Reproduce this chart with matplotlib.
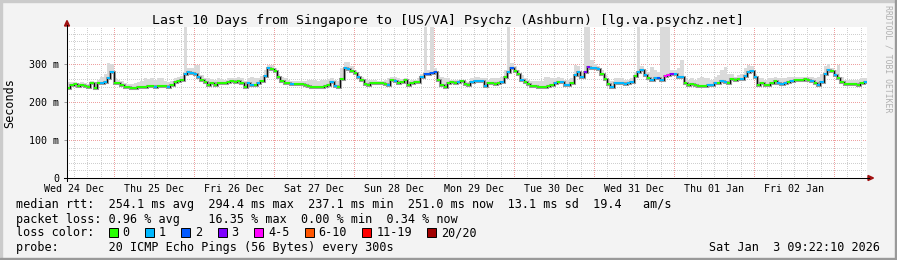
import numpy as np
import matplotlib.pyplot as plt
from matplotlib.patches import Rectangle, Polygon
from matplotlib.lines import Line2D

plt.rcParams['font.family'] = ['DejaVu Sans Mono']

# hourly median rtt (ms), graph start Wed 24 Dec ~10:00
rtt = [238, 245, 247, 242, 246, 243, 240, 249, 237, 251,
       249, 253, 262, 280, 251, 249, 245, 239, 239, 237,
       237, 239, 239, 239, 242, 242, 239, 242, 242, 242,
       239, 245, 253, 255, 258, 275, 280, 277, 274, 265,
       258, 253, 246, 249, 245, 249, 249, 249, 253, 255,
       253, 255, 251, 239, 249, 245, 245, 249, 255, 268,
       289, 286, 281, 267, 255, 251, 249, 247, 247, 247,
       247, 245, 242, 240, 240, 239, 239, 242, 245, 253,
       242, 239, 260, 289, 286, 282, 277, 267, 258, 247,
       245, 249, 249, 249, 249, 247, 245, 258, 255, 251,
       253, 258, 245, 251, 253, 253, 267, 274, 275, 277,
       280, 258, 245, 239, 249,
       253, 251, 253, 255, 247, 245, 253, 255, 255, 255,
       242, 249, 249, 247, 249, 253, 265, 280, 289, 282,
       274, 258, 253, 247, 242, 242, 240, 240, 240, 242,
       245, 251, 253, 253, 245, 245, 249, 271, 280, 265,
       280, 293, 289, 289, 287, 274, 260, 247, 239, 249,
       249, 249, 247, 249, 253, 268, 280, 284, 271, 262,
       258, 262, 262, 258, 268, 271, 275, 275, 267, 265,
       251, 245, 247, 245, 242, 242, 242, 245, 245, 249,
       251, 255, 253, 249, 260, 258, 261, 260, 268, 280,
       282, 267, 245, 249, 246, 245, 251, 256, 249, 247,
       249, 253, 256, 258, 258, 258, 260, 258, 256, 251,
       245, 253, 274, 284, 282, 271, 262, 253, 247, 247,
       247, 247, 246, 249, 253]

# slowest ping of each hour (ms), the top of the smoke
ping_max = [253, 252, 252, 250, 252, 250, 248, 255, 250, 258,
            265, 275, 302, 300, 262, 258, 255, 250, 248, 248,
            250, 252, 255, 262, 260, 262, 258, 262, 262, 255,
            252, 255, 262, 265, 268, 400, 290, 290, 297, 297,
            270, 262, 262, 260, 258, 262, 260, 258, 262, 262,
            262, 265, 262, 255, 262, 265, 262, 262, 268, 285,
            297, 297, 290, 275, 265, 262, 258, 255, 255, 255,
            255, 255, 258, 258, 258, 255, 258, 258, 260, 262,
            258, 255, 290, 306, 306, 295, 285, 275, 265, 260,
            258, 258, 258, 255, 255, 258, 262, 267, 267, 262,
            260, 262, 255, 258, 258, 262, 275, 400, 285, 400,
            290, 271, 265, 262, 262,
            258, 258, 258, 258, 255, 253, 262, 265, 265, 262,
            262, 258, 262, 262, 262, 265, 285, 400, 302, 295,
            285, 270, 262, 258, 255, 255, 255, 255, 265, 267,
            262, 262, 267, 262, 258, 258, 262, 297, 295, 280,
            400, 400, 310, 300, 295, 285, 270, 258, 255, 262,
            262, 262, 258, 258, 262, 280, 400, 295, 285, 280,
            293, 285, 280, 400, 400, 400, 284, 284, 290, 310,
            262, 258, 262, 258, 262, 265, 262, 262, 258, 265,
            270, 284, 293, 275, 275, 267, 270, 275, 290, 297,
            295, 275, 262, 262, 258, 262, 262, 265, 262, 262,
            262, 265, 265, 267, 265, 265, 267, 265, 267, 262,
            265, 275, 295, 300, 290, 285, 297, 265, 258, 258,
            258, 258, 258, 262, 262]

# lost pings (of 20) per hour
loss = [0, 0, 0, 0, 0, 0, 0, 0, 0, 0,
        1, 1, 1, 1, 0, 0, 0, 0, 0, 0,
        0, 0, 0, 0, 0, 0, 1, 0, 0, 0,
        1, 0, 0, 0, 0, 1, 1, 1, 1, 1,
        0, 0, 0, 0, 0, 0, 0, 0, 0, 0,
        0, 0, 0, 0, 1, 1, 0, 1, 0, 1,
        1, 0, 0, 0, 0, 0, 0, 1, 0, 0,
        0, 0, 0, 0, 0, 0, 0, 0, 0, 1,
        1, 0, 0, 1, 1, 0, 0, 1, 0, 0,
        0, 0, 0, 0, 0, 0, 1, 0, 1, 0,
        0, 0, 0, 0, 0, 0, 1, 2, 2, 2,
        2, 0, 0, 0, 0,
        0, 0, 1, 0, 0, 0, 1, 1, 1, 1,
        1, 0, 0, 0, 0, 1, 0, 1, 2, 0,
        0, 1, 0, 0, 0, 0, 0, 0, 0, 0,
        0, 1, 0, 1, 1, 1, 0, 1, 1, 1,
        3, 3, 1, 1, 1, 0, 0, 0, 1, 1,
        1, 1, 1, 1, 1, 0, 1, 1, 1, 0,
        1, 1, 2, 1, 5, 5, 3, 1, 1, 1,
        0, 0, 0, 0, 0, 0, 0, 1, 1, 1,
        0, 1, 1, 0, 0, 0, 0, 1, 1, 1,
        1, 1, 0, 0, 0, 0, 0, 0, 1, 1,
        1, 0, 1, 0, 0, 0, 0, 0, 1, 0,
        1, 1, 1, 1, 0, 1, 0, 0, 0, 0,
        0, 0, 0, 0, 1]

day_labels = ['Wed 24 Dec', 'Thu 25 Dec', 'Fri 26 Dec', 'Sat 27 Dec', 'Sun 28 Dec',
              'Mon 29 Dec', 'Tue 30 Dec', 'Wed 31 Dec', 'Thu 01 Jan', 'Fri 02 Jan']
first_midnight = 14.1  # hours after graph start

loss_names = ['0', '1', '2', '3', '4-5', '6-10', '11-19', '20/20']
loss_upper = [0, 1, 2, 3, 5, 10, 19, 20]
loss_colors = ['#26ff00', '#00b8ff', '#0059ff', '#7e00ff', '#ff00ff', '#ff5500', '#ff0000', '#a10000']

title = 'Last 10 Days from Singapore to [US/VA] Psychz (Ashburn) [lg.va.psychz.net]'
stats = ['median rtt:  254.1 ms avg  294.4 ms max  237.1 ms min  251.0 ms now  13.1 ms sd  19.4   am/s',
         'packet loss: 0.96 % avg    16.35 % max  0.00 % min  0.34 % now']
probe = 'probe:       20 ICMP Echo Pings (56 Bytes) every 300s'
stamp = 'Sat Jan  3 09:22:10 2026'

W, H = 897, 260
fig = plt.figure(figsize=(W / 100, H / 100), dpi=100, facecolor='#f3f3f3')


def fx(px):
    return px / W


def fy(py):
    return 1 - py / H


ax = fig.add_axes([fx(67), fy(178), 800 / W, 151 / H])
ax.set_facecolor('white')
ax.set_xlim(0, 240)
ax.set_ylim(0, 151 / 0.38)
for s in ax.spines.values():
    s.set_visible(False)

# grid
minor_c = '#cfcfcf'
major_c = '#eea0a0'
dots = (0, (1, 1.6))
for v in range(20, 400, 20):
    ax.axhline(v, color=major_c if v % 100 == 0 else minor_c, lw=0.72, ls=dots,
               antialiased=False, zorder=0)
for v in np.arange(first_midnight % 4, 240, 4):
    off = (v - first_midnight) % 24
    major = off < 1e-6 or off > 24 - 1e-6
    ax.axvline(v, color=major_c if major else minor_c, lw=0.72, ls=dots,
               antialiased=False, zorder=0)

# smoke + median
hours = np.arange(len(rtt) + 1)
ax.stairs(ping_max, hours, baseline=rtt, fill=True, color='#dadada', lw=0, zorder=1)
ax.stairs(rtt, hours, baseline=None, color='#9a9a9a', lw=2.2, zorder=2)
ax.stairs(rtt, hours, baseline=None, color='black', lw=0.65, zorder=3)
seg_colors = [loss_colors[next(i for i, u in enumerate(loss_upper) if n <= u)] for n in loss]
ax.hlines(rtt, hours[:-1], hours[1:], colors=seg_colors, lw=1.5, zorder=4)

# ticks
ax.set_yticks([0, 100, 200, 300], ['0', '100 m', '200 m', '300 m'])
ax.tick_params(axis='y', length=2.2, width=0.7, color='#999999', pad=3.6, labelsize=7.2)
ax.set_xticks(first_midnight - 12 + 24 * np.arange(len(day_labels)), day_labels)
ax.tick_params(axis='x', length=0, pad=4.5, labelsize=7.2)

# axes with arrows
fig.add_artist(Line2D([fx(67), fx(67)], [fy(181), fy(25)], color='black', lw=0.75))
fig.add_artist(Line2D([fx(64), fx(869)], [fy(178), fy(178)], color='black', lw=0.75))
fig.add_artist(Polygon([[fx(64.5), fy(26)], [fx(69.5), fy(26)], [fx(67), fy(20.5)]],
                       closed=True, color='#a01010', transform=fig.transFigure))
fig.add_artist(Polygon([[fx(868), fy(175.5)], [fx(868), fy(180.5)], [fx(873.5), fy(178)]],
                       closed=True, color='#a01010', transform=fig.transFigure))

# texts
fig.text(fx(448), fy(24), title, ha='center', va='baseline', fontsize=9.5)
fig.text(fx(10), fy(103), 'Seconds', rotation=90, ha='center', va='center', fontsize=8.5)
fig.text(fx(888), fy(5), 'RRDTOOL / TOBI OETIKER', rotation=270, ha='center', va='top',
         fontsize=5.9, color='#b0b0b0')

cw = 7.12
fig.text(fx(16), fy(208.3), stats[0], fontsize=8.5, va='baseline')
fig.text(fx(16), fy(222.5), stats[1], fontsize=8.5, va='baseline')
fig.text(fx(16), fy(236.5), 'loss color:', fontsize=8.5, va='baseline')
fig.text(fx(16), fy(250.6), probe, fontsize=8.5, va='baseline')
fig.text(fx(880), fy(250.6), stamp, fontsize=8.5, va='baseline', ha='right')

bx = 16 + 13 * cw
for name, c in zip(loss_names, loss_colors):
    fig.add_artist(Rectangle((fx(bx), fy(236.5)), 9 / W, 9 / H, facecolor=c, edgecolor='black',
                             lw=0.7, transform=fig.transFigure))
    fig.text(fx(bx + 14), fy(236.5), name, fontsize=8.5, va='baseline')
    bx += 14 + (len(name) + 2) * cw + 1

# frame shading
fig.add_artist(Rectangle((0, fy(2)), 1, 2 / H, color='#cbcbcb', transform=fig.transFigure))
fig.add_artist(Rectangle((0, 0), 2 / W, 1, color='#cbcbcb', transform=fig.transFigure))
fig.add_artist(Rectangle((0, 0), 1, 2 / H, color='#999999', transform=fig.transFigure))
fig.add_artist(Rectangle((1 - 2 / W, 0), 2 / W, 1, color='#999999', transform=fig.transFigure))

fig.savefig('out.png', dpi=100, facecolor=fig.get_facecolor())
